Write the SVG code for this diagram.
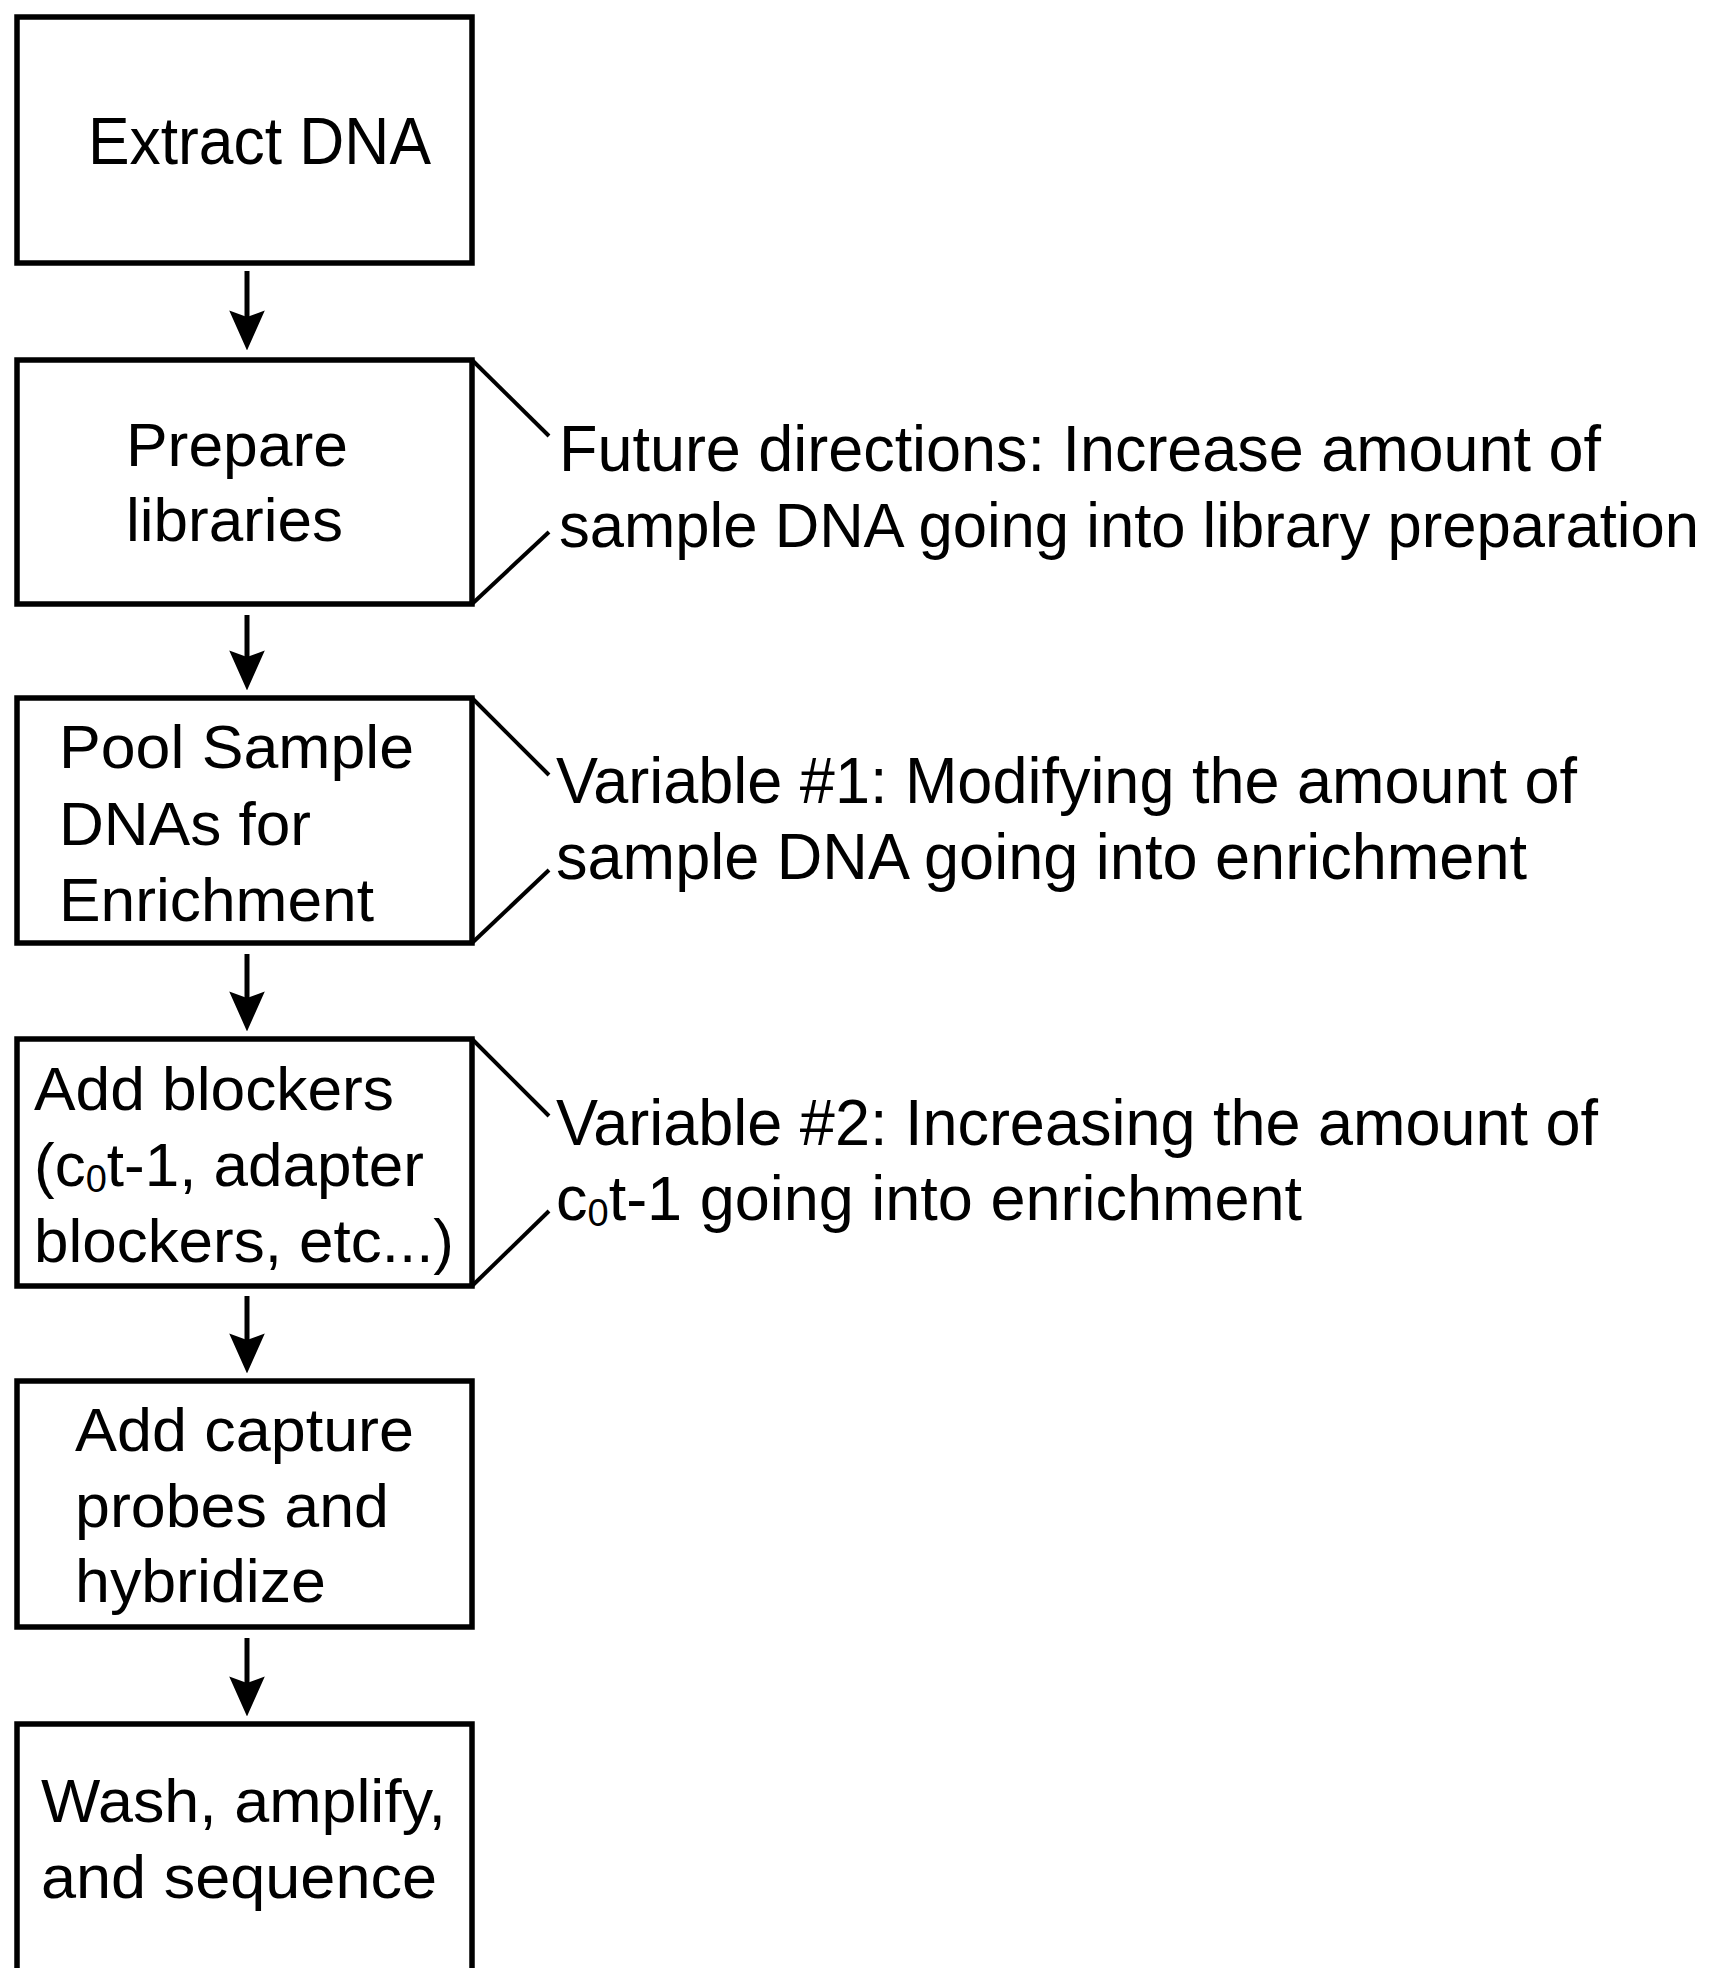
<svg xmlns="http://www.w3.org/2000/svg" width="1730" height="1968" viewBox="0 0 1730 1968">
<defs>
<style>
.box{fill:#fff;stroke:#000;stroke-width:5.5}
.br{fill:none;stroke:#000;stroke-width:4}
.t{font-family:"Liberation Sans",Arial,sans-serif;font-size:62px;fill:#000}
.n{font-family:"Liberation Sans",Arial,sans-serif;font-size:64px;fill:#000}
.ar{stroke:#000;stroke-width:5;fill:none}
.sub{font-size:38px}
</style>
<marker id="ah" markerUnits="userSpaceOnUse" markerWidth="40" markerHeight="36" viewBox="0 0 36 32" refX="14" refY="16" orient="auto">
<path d="M0,0 L36,16 L0,32 L6,16 z" fill="#000"/>
</marker>
</defs>
<rect width="1730" height="1968" fill="#fff"/>
<g id="connectors">
<line class="ar" x1="247" y1="271" x2="247" y2="326" marker-end="url(#ah)"/>
<line class="ar" x1="247" y1="615" x2="247" y2="666" marker-end="url(#ah)"/>
<line class="ar" x1="247" y1="954" x2="247" y2="1007" marker-end="url(#ah)"/>
<line class="ar" x1="247" y1="1296" x2="247" y2="1349" marker-end="url(#ah)"/>
<line class="ar" x1="247" y1="1638" x2="247" y2="1692" marker-end="url(#ah)"/>
</g>
<g id="n1">
<rect class="box" x="17" y="17" width="455" height="246"/>
<text class="t" x="88" y="164" textLength="343" lengthAdjust="spacingAndGlyphs" style="font-size:66px">Extract DNA</text>
</g>
<g id="n2">
<rect class="box" x="17" y="360" width="455" height="244"/>
<text class="t" x="126" y="466" textLength="222" lengthAdjust="spacingAndGlyphs">Prepare</text>
<text class="t" x="126" y="541" textLength="217" lengthAdjust="spacingAndGlyphs">libraries</text>
</g>
<g id="note1">
<polyline class="br" points="472,360 549,436"/>
<polyline class="br" points="549,532 472,604"/>
<text class="n" x="559" y="471" textLength="1042" lengthAdjust="spacingAndGlyphs">Future directions: Increase amount of</text>
<text class="n" x="559" y="547" textLength="1140" lengthAdjust="spacingAndGlyphs" style="font-size:63px">sample DNA going into library preparation</text>
</g>
<g id="n3">
<rect class="box" x="17" y="698" width="455" height="245"/>
<text class="t" x="59" y="768" textLength="355" lengthAdjust="spacingAndGlyphs">Pool Sample</text>
<text class="t" x="59" y="845" textLength="252" lengthAdjust="spacingAndGlyphs">DNAs for</text>
<text class="t" x="59" y="921" textLength="315" lengthAdjust="spacingAndGlyphs">Enrichment</text>
</g>
<g id="note2">
<polyline class="br" points="472,698 549,775"/>
<polyline class="br" points="549,870 472,943"/>
<text class="n" x="556" y="803" textLength="1021" lengthAdjust="spacingAndGlyphs">Variable #1: Modifying the amount of</text>
<text class="n" x="556" y="879" textLength="971" lengthAdjust="spacingAndGlyphs">sample DNA going into enrichment</text>
</g>
<g id="n4">
<rect class="box" x="17" y="1039" width="455" height="247"/>
<text class="t" x="34" y="1110" textLength="360" lengthAdjust="spacingAndGlyphs">Add blockers</text>
<text class="t" x="34" y="1186">(c<tspan class="sub" dy="6">0</tspan><tspan dy="-6">t-1, adapter</tspan></text>
<text class="t" x="34" y="1262" textLength="420" lengthAdjust="spacingAndGlyphs">blockers, etc...)</text>
</g>
<g id="note3">
<polyline class="br" points="472,1039 549,1116"/>
<polyline class="br" points="549,1211 472,1286"/>
<text class="n" x="556" y="1145" textLength="1042" lengthAdjust="spacingAndGlyphs">Variable #2: Increasing the amount of</text>
<text class="n" x="556" y="1220" style="font-size:63px">c<tspan class="sub" dy="6">0</tspan><tspan dy="-6">t-1 going into enrichment</tspan></text>
</g>
<g id="n5">
<rect class="box" x="17" y="1381" width="455" height="246"/>
<text class="t" x="75" y="1451" textLength="339" lengthAdjust="spacingAndGlyphs">Add capture</text>
<text class="t" x="75" y="1527" textLength="314" lengthAdjust="spacingAndGlyphs">probes and</text>
<text class="t" x="75" y="1602" textLength="251" lengthAdjust="spacingAndGlyphs">hybridize</text>
</g>
<g id="n6">
<rect class="box" x="17" y="1724" width="455" height="300"/>
<text class="t" x="41" y="1822" textLength="405" lengthAdjust="spacingAndGlyphs">Wash, amplify,</text>
<text class="t" x="41" y="1898" textLength="396" lengthAdjust="spacingAndGlyphs">and sequence</text>
</g>
</svg>
